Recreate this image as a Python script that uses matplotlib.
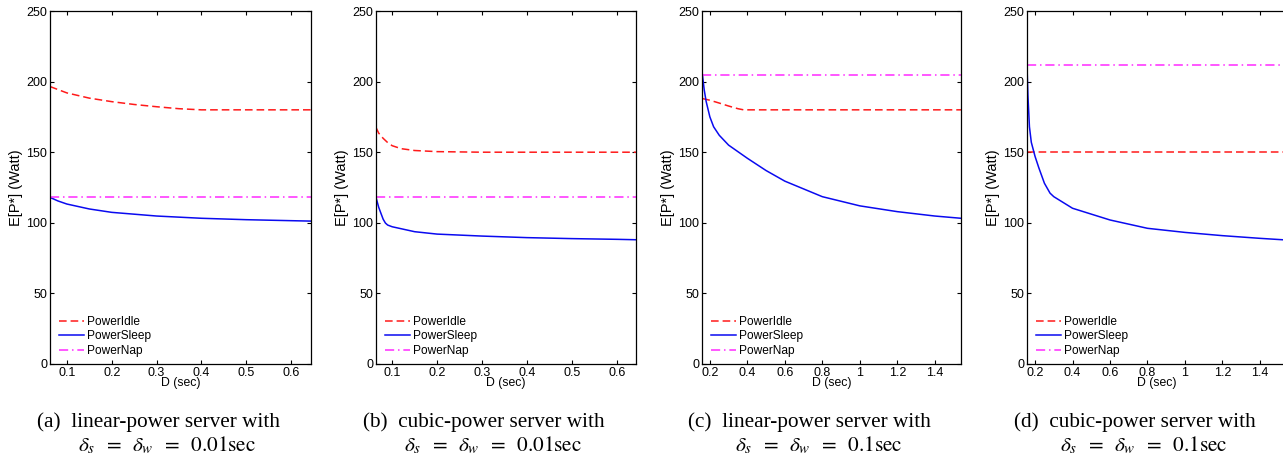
import matplotlib
matplotlib.use("Agg")
import matplotlib.pyplot as plt
import numpy as np

plt.rcParams['font.family'] = ['Liberation Sans', 'DejaVu Sans']
plt.rcParams['mathtext.fontset'] = 'stix'

# ---------------- data ----------------
# Panel (a): linear-power, delta = 0.01 s
a_idle_x = [0.0625, 0.1, 0.15, 0.2, 0.25, 0.3, 0.35, 0.4, 0.5, 0.644]
a_idle_y = [196.5, 192.0, 188.3, 185.8, 183.8, 182.2, 180.8, 180.0, 180.0, 180.0]
a_sleep_x = [0.0625, 0.08, 0.1, 0.15, 0.2, 0.3, 0.4, 0.5, 0.6, 0.644]
a_sleep_y = [118.0, 115.5, 113.3, 109.8, 107.4, 104.8, 103.2, 102.2, 101.5, 101.2]
a_nap_x = [0.0625, 0.644]
a_nap_y = [118.0, 118.0]

# Panel (b): cubic-power, delta = 0.01 s
b_idle_x = [0.064, 0.07, 0.08, 0.09, 0.1, 0.12, 0.15, 0.2, 0.3, 0.643]
b_idle_y = [167.5, 163.5, 159.8, 156.8, 154.6, 152.5, 151.2, 150.4, 150.0, 150.0]
b_sleep_x = [0.064, 0.07, 0.075, 0.08, 0.085, 0.09, 0.1, 0.15, 0.2, 0.3, 0.4, 0.5, 0.6, 0.643]
b_sleep_y = [118.0, 111.0, 106.7, 102.5, 99.8, 98.4, 97.2, 93.7, 92.0, 90.6, 89.5, 88.8, 88.3, 88.0]
b_nap_x = [0.064, 0.643]
b_nap_y = [118.0, 118.0]

# Panel (c): linear-power, delta = 0.1 s
c_idle_x = [0.16, 0.2, 0.25, 0.3, 0.35, 0.38, 0.5, 1.54]
c_idle_y = [188.0, 186.8, 184.8, 182.7, 180.8, 180.0, 180.0, 180.0]
c_sleep_x = [0.16, 0.17, 0.18, 0.2, 0.22, 0.25, 0.3, 0.4, 0.5, 0.6, 0.8, 1.0, 1.2, 1.4, 1.54]
c_sleep_y = [205.0, 194.0, 186.0, 175.0, 168.0, 162.0, 155.0, 145.7, 137.0, 129.5, 118.5, 112.0, 107.9, 104.8, 103.2]
c_nap_x = [0.16, 1.54]
c_nap_y = [205.0, 205.0]

# Panel (d): cubic-power, delta = 0.1 s
d_idle_x = [0.157, 1.545]
d_idle_y = [150.0, 150.0]
d_sleep_x = [0.157, 0.162, 0.17, 0.18, 0.2, 0.22, 0.25, 0.28, 0.3, 0.4, 0.6, 0.8, 1.0, 1.2, 1.4, 1.545]
d_sleep_y = [211.0, 190.0, 168.0, 157.0, 147.0, 139.0, 128.0, 121.0, 118.5, 110.3, 102.0, 96.1, 93.2, 90.9, 89.0, 87.8]
d_nap_x = [0.157, 1.545]
d_nap_y = [212.0, 212.0]

xlims = [(0.0625, 0.644), (0.064, 0.643), (0.158, 1.54), (0.157, 1.545)]
xticks_small = [0.1, 0.2, 0.3, 0.4, 0.5, 0.6]
xticks_large = [0.2, 0.4, 0.6, 0.8, 1.0, 1.2, 1.4]
xticklabels_large = ['0.2', '0.4', '0.6', '0.8', '1', '1.2', '1.4']
yticks = [0, 50, 100, 150, 200, 250]

captions = [
    ("(a)  linear-power server with", r"$\delta_s\;\;=\;\;\delta_w\;\;=\;\;0.01\mathrm{sec}$"),
    ("(b)  cubic-power server with", r"$\delta_s\;\;=\;\;\delta_w\;\;=\;\;0.01\mathrm{sec}$"),
    ("(c)  linear-power server with", r"$\delta_s\;\;=\;\;\delta_w\;\;=\;\;0.1\mathrm{sec}$"),
    ("(d)  cubic-power server with", r"$\delta_s\;\;=\;\;\delta_w\;\;=\;\;0.1\mathrm{sec}$"),
]

panels = [
    (a_idle_x, a_idle_y, a_sleep_x, a_sleep_y, a_nap_x, a_nap_y),
    (b_idle_x, b_idle_y, b_sleep_x, b_sleep_y, b_nap_x, b_nap_y),
    (c_idle_x, c_idle_y, c_sleep_x, c_sleep_y, c_nap_x, c_nap_y),
    (d_idle_x, d_idle_y, d_sleep_x, d_sleep_y, d_nap_x, d_nap_y),
]

W, H = 1283, 454
fig = plt.figure(figsize=(W / 100, H / 100), dpi=100)

# axes boxes in pixels: left, right
boxes = [(50, 311), (376, 636), (702, 961), (1027, 1287)]
top_px, bot_px = 11, 364
serif = ['Liberation Serif', 'DejaVu Serif']

for i, ((l, r), data) in enumerate(zip(boxes, panels)):
    ax = fig.add_axes([l / W, 1 - bot_px / H, (r - l) / W, (bot_px - top_px) / H])
    ix, iy, sx, sy, nx, ny = data
    ax.plot(ix, iy, color='#ff1a1a', linestyle=(0, (5, 2.6)), lw=1.1, label='PowerIdle')
    ax.plot(sx, sy, color='#0a0af0', linestyle='-', lw=1.1, label='PowerSleep')
    ax.plot(nx, ny, color='#ff2aff', linestyle=(0, (6, 2.5, 1, 2.5)), lw=1.1, label='PowerNap')
    ax.set_xlim(*xlims[i])
    ax.set_ylim(0, 250)
    ax.set_yticks(yticks)
    if i < 2:
        ax.set_xticks(xticks_small)
        ax.set_xticklabels([f"{t:g}" for t in xticks_small])
    else:
        ax.set_xticks(xticks_large)
        ax.set_xticklabels(xticklabels_large)
    ax.tick_params(direction='in', top=True, right=True, length=3, width=0.8,
                   labelsize=9, pad=2)
    for s in ax.spines.values():
        s.set_linewidth(0.9)
    ax.set_xlabel('D (sec)', fontsize=8.8, labelpad=-1)
    ax.set_ylabel('E[P*] (Watt)', fontsize=10.5, labelpad=2)
    ax.legend(loc='lower left', frameon=False, fontsize=8.6, handlelength=2.1,
              handletextpad=0.25, labelspacing=0.22, borderaxespad=0.0,
              borderpad=0.0, bbox_to_anchor=(9 / (r - l), 7 / (bot_px - top_px)))
    acx = (l + r) / 2 if i < 3 else (1027 + 1287) / 2
    fig.text((acx - 22) / W, 1 - 427 / H, captions[i][0], ha='center', va='baseline',
             fontsize=15.3, family=serif)
    fig.text((acx - 13) / W, 1 - 451 / H, captions[i][1], ha='center', va='baseline',
             fontsize=15.3, family=serif)

fig.savefig('out.png', dpi=100)
